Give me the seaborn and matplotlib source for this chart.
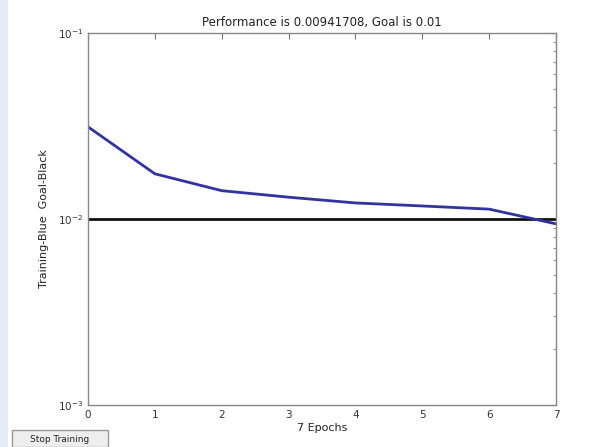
import matplotlib
matplotlib.use("Agg")
import matplotlib.pyplot as plt
import matplotlib.patches as mpatches
import seaborn as sns
import pandas as pd
import numpy as np

epochs = [0, 1, 2, 3, 4, 5, 6, 7]
performance = [0.0313, 0.0175, 0.0142, 0.0131, 0.0122, 0.01175, 0.0113, 0.00941708]
goal = [0.01, 0.01, 0.01, 0.01, 0.01, 0.01, 0.01, 0.01]
title_text = "Performance is 0.00941708, Goal is 0.01"
ylabel_text = "Training-Blue  Goal-Black"
xlabel_text = "7 Epochs"
button_text = "Stop Training"

sns.set_theme(style="white")
plt.rcParams['font.family'] = ['DejaVu Sans']

df = pd.DataFrame({"epoch": epochs, "perf": performance, "goal": goal})

fig = plt.figure(figsize=(5.96, 4.47), dpi=100)
fig.patch.set_facecolor("white")
fig.patches.append(mpatches.Rectangle((0, 0), 8/596, 1, transform=fig.transFigure,
                                      facecolor="#e4ecf7", edgecolor="none", zorder=0))

ax = fig.add_axes([88/596, 1-405/447, (556-88)/596, (405-33)/447])
sns.lineplot(data=df, x="epoch", y="goal", ax=ax, color="#111111", linewidth=2.0)
sns.lineplot(data=df, x="epoch", y="perf", ax=ax, color="#3333a0", linewidth=2.0)
ax.set_yscale("log")
ax.set_ylim(1e-3, 1e-1)
ax.set_xlim(0, 7)
ax.set_xticks(epochs)
ax.set_xticklabels([str(e) for e in epochs])
ax.tick_params(axis="both", which="both", direction="in", top=True, right=True,
               colors="#777777", labelcolor="#333333", labelsize=7.5)
ax.tick_params(axis="both", which="major", length=4, width=0.8)
ax.tick_params(axis="y", which="minor", length=2, width=0.6)
for s in ax.spines.values():
    s.set_color("#888888")
    s.set_linewidth(1.0)
ax.set_title(title_text, fontsize=8.5, color="#222222", pad=5)
ax.set_ylabel(ylabel_text, fontsize=8, color="#222222", labelpad=6)
ax.set_xlabel(xlabel_text, fontsize=8, color="#222222", labelpad=2)

fig.patches.append(mpatches.Rectangle((12/596, 0), 96/596, 17/447, transform=fig.transFigure,
                                      facecolor="#eeeeee", edgecolor="#999999", linewidth=1.0, zorder=2))
fig.text(60/596, 8/447, button_text, fontsize=6.5, ha="center", va="center", color="#222222")

fig.savefig("out.png", dpi=100, facecolor="white")
